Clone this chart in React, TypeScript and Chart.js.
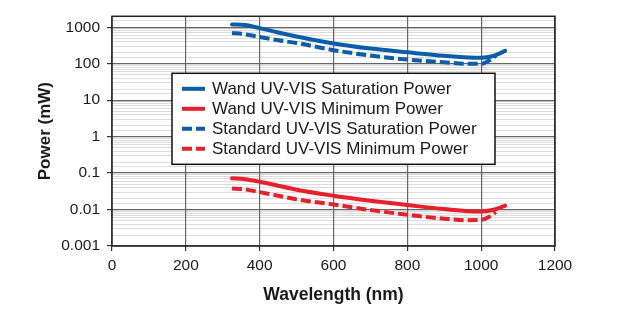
import React, { useEffect, useRef } from "react";
import { Chart, registerables } from "chart.js";

Chart.register(...registerables);

// ---- data ----
const wandSatX = [325, 360, 400, 450, 500, 600, 700, 800, 900, 1000, 1030, 1065];
const wandSatY = [1200, 1150, 950, 720, 560, 360, 260, 205, 165, 145, 160, 225];

const stdSatX = [325, 360, 400, 450, 500, 600, 700, 800, 900, 960, 1000, 1020, 1040];
const stdSatY = [700, 640, 540, 440, 370, 235, 168, 130, 110, 100, 100, 120, 165];

const wandMinX = [325, 360, 400, 450, 500, 600, 700, 800, 900, 1000, 1030, 1065];
const wandMinY = [0.072, 0.068, 0.058, 0.045, 0.035, 0.024, 0.0175, 0.0133, 0.0103, 0.0088, 0.0097, 0.0127];

const stdMinX = [325, 360, 400, 450, 500, 600, 700, 800, 900, 960, 1000, 1020, 1040];
const stdMinY = [0.038, 0.036, 0.03, 0.024, 0.019, 0.0138, 0.0097, 0.0072, 0.0056, 0.0051, 0.0052, 0.0062, 0.0085];

const seriesLabels = [
  "Wand UV-VIS Saturation Power",
  "Wand UV-VIS Minimum Power",
  "Standard UV-VIS Saturation Power",
  "Standard UV-VIS Minimum Power",
];

const yTickLabels = ["0.001", "0.01", "0.1", "1", "10", "100", "1000"];
const xTickLabels = ["0", "200", "400", "600", "800", "1000", "1200"];

const xTitle = "Wavelength (nm)";
const yTitle = "Power (mW)";

const BLUE = "#0a5ea9";
const RED = "#e8202b";
const DASH = [10, 4];
const FONT = "'Liberation Sans', Arial, sans-serif";

const zip = (xs: number[], ys: number[]) => xs.map((x, i) => ({ x, y: ys[i] }));

const isMajor = (v: number) => {
  if (!(v > 0)) return false;
  const l = Math.log10(v);
  return Math.abs(l - Math.round(l)) < 1e-6;
};

const decorPlugin = {
  id: "decor",
  afterDatasetsDraw(chart: any) {
    const { ctx, chartArea } = chart;
    // legend
    const bx = chartArea.left + 60;
    const by = chartArea.top + 57;
    const bw = 323;
    const rowH = 20;
    const bh = 91;
    ctx.save();
    ctx.fillStyle = "#ffffff";
    ctx.fillRect(bx, by, bw, bh);
    ctx.strokeStyle = "#111";
    ctx.lineWidth = 1.5;
    ctx.strokeRect(bx, by, bw, bh);
    chart.data.datasets.forEach((ds: any, i: number) => {
      const cy = by + 15.5 + i * rowH;
      ctx.beginPath();
      ctx.strokeStyle = ds.borderColor;
      ctx.lineWidth = 4;
      ctx.setLineDash(ds.borderDash || []);
      ctx.lineCap = "butt";
      ctx.moveTo(bx + 10, cy);
      ctx.lineTo(bx + 33, cy);
      ctx.stroke();
      ctx.setLineDash([]);
      ctx.fillStyle = "#1a1a1a";
      ctx.font = `17px ${FONT}`;
      ctx.textBaseline = "middle";
      ctx.textAlign = "left";
      ctx.fillText(ds.label, bx + 40, cy + 1);
    });
    ctx.restore();
  },
  afterDraw(chart: any) {
    const { ctx, chartArea } = chart;
    ctx.save();
    ctx.strokeStyle = "#222";
    ctx.lineWidth = 1.5;
    ctx.strokeRect(chartArea.left, chartArea.top, chartArea.right - chartArea.left, chartArea.bottom - chartArea.top);
    ctx.fillStyle = "#1a1a1a";
    ctx.font = `bold 17.5px ${FONT}`;
    ctx.textAlign = "center";
    ctx.textBaseline = "middle";
    ctx.fillText(xTitle, (chartArea.left + chartArea.right) / 2, chartArea.bottom + 49);
    ctx.translate(45, (chartArea.top + chartArea.bottom) / 2);
    ctx.rotate(-Math.PI / 2);
    ctx.font = `bold 17px ${FONT}`;
    ctx.fillText(yTitle, 0, 0);
    ctx.restore();
  },
};

export default function App() {
  const ref = useRef<HTMLCanvasElement | null>(null);
  useEffect(() => {
    if (!ref.current) return;
    const mk = (label: string, data: any[], color: string, dashed: boolean) => ({
      label,
      data,
      borderColor: color,
      backgroundColor: color,
      borderWidth: 4,
      borderDash: dashed ? DASH : [],
      borderCapStyle: dashed ? "butt" : "round",
      pointRadius: 0,
      cubicInterpolationMode: "monotone",
      fill: false,
    });
    const chart = new Chart(ref.current, {
      type: "line",
      data: {
        datasets: [
          mk(seriesLabels[0], zip(wandSatX, wandSatY), BLUE, false),
          mk(seriesLabels[1], zip(wandMinX, wandMinY), RED, false),
          mk(seriesLabels[2], zip(stdSatX, stdSatY), BLUE, true),
          mk(seriesLabels[3], zip(stdMinX, stdMinY), RED, true),
        ] as any,
      },
      options: {
        animation: false,
        responsive: false,
        devicePixelRatio: 1,
        layout: { padding: { left: 0, right: 66, top: 16, bottom: 0 } },
        plugins: { legend: { display: false }, tooltip: { enabled: false } },
        scales: {
          y: {
            type: "logarithmic",
            z: -1,
            min: 0.001,
            max: 2000,
            ticks: {
              autoSkip: false,
              padding: 7,
              color: "#1a1a1a",
              font: { family: FONT, size: 15.5 },
              callback: (v: any) => {
                const n = Number(v);
                return isMajor(n) ? yTickLabels[Math.round(Math.log10(n)) + 3] ?? "" : "";
              },
            },
            grid: {
              color: (c: any) => (c.tick && isMajor(c.tick.value) ? "#666" : "#dcdcdc"),
              lineWidth: (c: any) => (c.tick && isMajor(c.tick.value) ? 1.2 : 1),
              tickLength: 5,
              tickColor: (c: any) => (c.tick && isMajor(c.tick.value) ? "#333" : "rgba(0,0,0,0)"),
            },
            border: { display: false },
            afterFit: (s: any) => {
              s.width = 112;
            },
          },
          x: {
            type: "linear",
            z: 0,
            min: 0,
            max: 1200,
            ticks: {
              stepSize: 200,
              autoSkip: false,
              maxRotation: 0,
              padding: 5,
              color: "#1a1a1a",
              font: { family: FONT, size: 15.5 },
              callback: (v: any) => xTickLabels[Math.round(Number(v) / 200)] ?? "",
            },
            grid: { color: "#666", lineWidth: 1.2, tickLength: 5, tickColor: "#333" },
            border: { display: false },
            afterFit: (s: any) => {
              s.height = 82;
            },
          },
        },
      } as any,
      plugins: [decorPlugin],
    });
    return () => chart.destroy();
  }, []);
  return (
    <div style={{ position: "fixed", left: 0, top: 0, width: 621, height: 328, background: "#fff" }}>
      <canvas ref={ref} width={621} height={328} style={{ display: "block" }} />
    </div>
  );
}
